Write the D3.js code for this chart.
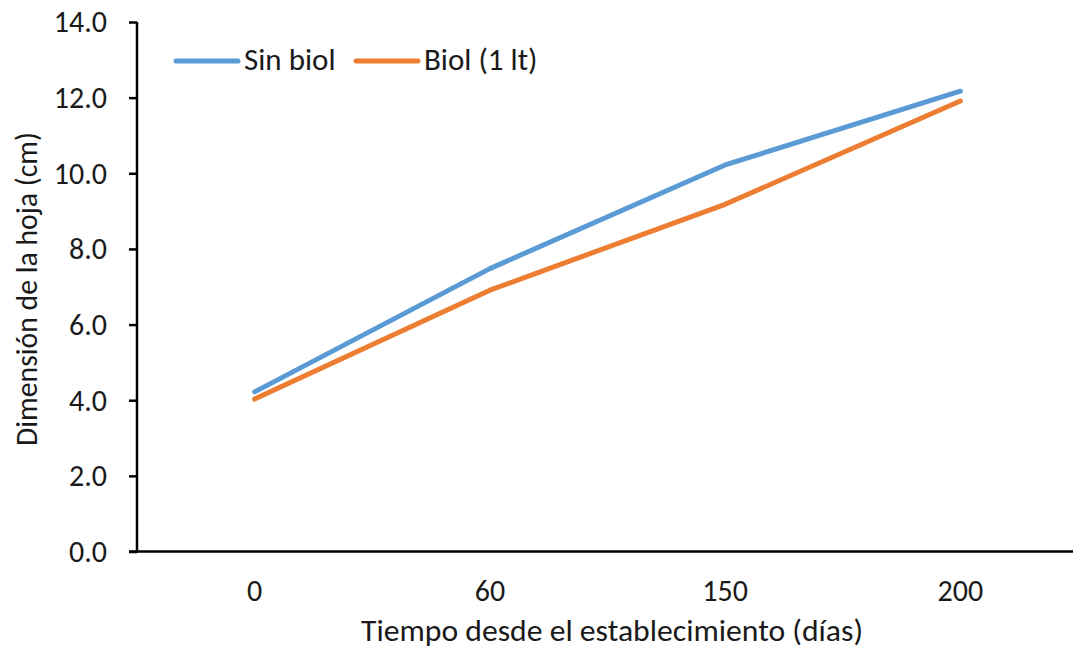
<!DOCTYPE html>
<html><head><meta charset="utf-8">
<script src="https://cdn.jsdelivr.net/npm/d3@7"></script>
<style>body{margin:0;background:#fff}svg{display:block}text{font-family:Carlito,Calibri,Lato,sans-serif;fill:#1a1a1a}</style>
</head><body><svg id="c" width="1073" height="652"></svg>
<script>
const categories = ["0","60","150","200"];
const sinBiol = [4.22, 7.48, 10.22, 12.17];
const biol1lt = [4.03, 6.91, 9.18, 11.91];
const yTicks = [0,2,4,6,8,10,12,14];
const seriesNames = ["Sin biol","Biol (1 lt)"];
const colors = ["#5B9BD5","#ED7D31"];

const svg = d3.select("#c");
const x = d3.scaleBand().domain(categories).range([137,1078]);
const y = d3.scaleLinear().domain([0,14]).range([551.5,22]);

// y axis
const ya = svg.append("g").attr("transform","translate(137,0)")
  .call(d3.axisLeft(y).tickValues(yTicks).tickFormat(d3.format(".1f")).tickSize(8).tickPadding(22));
ya.select(".domain").attr("stroke","#000").attr("stroke-width",2.5).attr("d","M0,22V552.5");
ya.selectAll(".tick line").attr("stroke","#000").attr("stroke-width",2.5);
ya.selectAll(".tick text").style("font-size","30px").attr("dy","0.33em");

// x axis
const xa = svg.append("g").attr("transform","translate(0,551.5)")
  .call(d3.axisBottom(x).tickSize(0).tickPadding(28));
xa.select(".domain").attr("stroke","#000").attr("stroke-width",2.5).attr("d","M129,0H1078");
xa.selectAll(".tick text").style("font-size","30px");

const line = d3.line().x((d,i)=>x(categories[i])+x.bandwidth()/2).y(d=>y(d));
[sinBiol, biol1lt].forEach((s,k)=>{
  svg.append("path").datum(s).attr("d",line).attr("fill","none")
    .attr("stroke",colors[k]).attr("stroke-width",5).attr("stroke-linecap","round").attr("stroke-linejoin","round");
});

// legend
const lg = [{x1:176,x2:238,tx:244},{x1:356,x2:418,tx:424}];
seriesNames.forEach((n,k)=>{
  svg.append("line").attr("x1",lg[k].x1).attr("x2",lg[k].x2).attr("y1",61).attr("y2",61)
    .attr("stroke",colors[k]).attr("stroke-width",5).attr("stroke-linecap","round");
  svg.append("text").attr("x",lg[k].tx).attr("y",70).style("font-size","31px").text(n);
});

// axis titles
svg.append("text").attr("x",612).attr("y",641).attr("text-anchor","middle").style("font-size","31.7px")
  .text("Tiempo desde el establecimiento (días)");
svg.append("text").attr("transform","translate(37,289) rotate(-90)").attr("text-anchor","middle").style("font-size","29.7px")
  .text("Dimensión de la hoja (cm)");
</script></body></html>
